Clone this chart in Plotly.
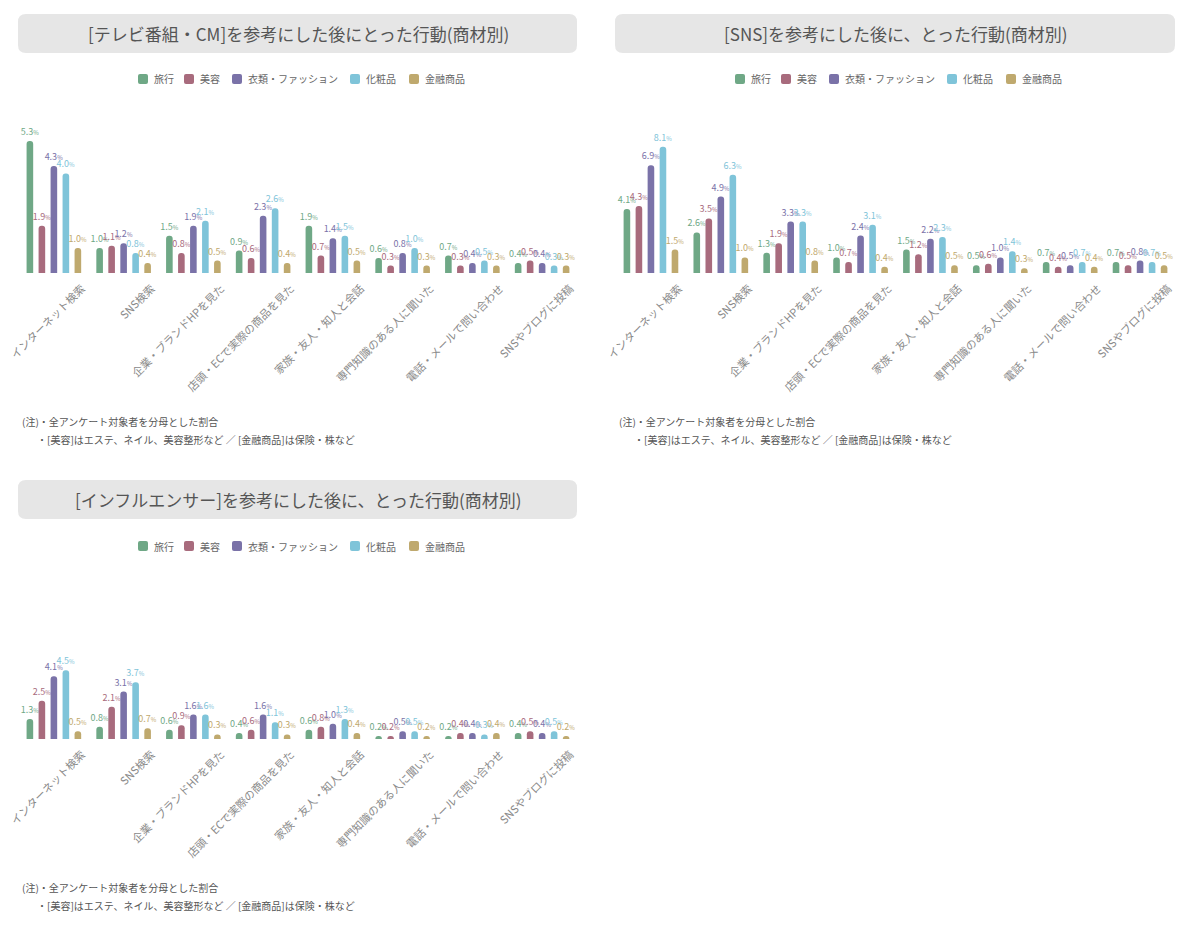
import plotly.graph_objects as go

# page body has an 8px margin, so the figure is a bit smaller and shifted
OFF = 8
W, H = 1200 - 2 * OFF, 945 - 2 * OFF

categories = [
    "インターネット検索", "SNS検索", "企業・ブランドHPを見た", "店頭・ECで実際の商品を見た",
    "家族・友人・知人と会話", "専門知識のある人に聞いた", "電話・メールで問い合わせ", "SNSやブログに投稿",
]
series_names = ["旅行", "美容", "衣類・ファッション", "化粧品", "金融商品"]
colors = ["#6fa886", "#a86b7d", "#7a72a8", "#7fc4d9", "#bfa96e"]

# [テレビ番組・CM]
tv_travel = [5.3, 1.0, 1.5, 0.9, 1.9, 0.6, 0.7, 0.4]
tv_beauty = [1.9, 1.1, 0.8, 0.6, 0.7, 0.3, 0.3, 0.5]
tv_fashion = [4.3, 1.2, 1.9, 2.3, 1.4, 0.8, 0.4, 0.4]
tv_cosme = [4.0, 0.8, 2.1, 2.6, 1.5, 1.0, 0.5, 0.3]
tv_finance = [1.0, 0.4, 0.5, 0.4, 0.5, 0.3, 0.3, 0.3]

# [SNS]
sns_travel = [4.1, 2.6, 1.3, 1.0, 1.5, 0.5, 0.7, 0.7]
sns_beauty = [4.3, 3.5, 1.9, 0.7, 1.2, 0.6, 0.4, 0.5]
sns_fashion = [6.9, 4.9, 3.3, 2.4, 2.2, 1.0, 0.5, 0.8]
sns_cosme = [8.1, 6.3, 3.3, 3.1, 2.3, 1.4, 0.7, 0.7]
sns_finance = [1.5, 1.0, 0.8, 0.4, 0.5, 0.3, 0.4, 0.5]

# [インフルエンサー]
inf_travel = [1.3, 0.8, 0.6, 0.4, 0.6, 0.2, 0.2, 0.4]
inf_beauty = [2.5, 2.1, 0.9, 0.6, 0.8, 0.2, 0.4, 0.5]
inf_fashion = [4.1, 3.1, 1.6, 1.6, 1.0, 0.5, 0.4, 0.4]
inf_cosme = [4.5, 3.7, 1.6, 1.1, 1.3, 0.5, 0.3, 0.5]
inf_finance = [0.5, 0.7, 0.3, 0.3, 0.4, 0.2, 0.4, 0.2]

titles = [
    "[テレビ番組・CM]を参考にした後にとった行動(商材別)",
    "[SNS]を参考にした後に、とった行動(商材別)",
    "[インフルエンサー]を参考にした後に、とった行動(商材別)",
]
note1 = "(注)・全アンケート対象者を分母とした割合"
note2 = "・[美容]はエステ、ネイル、美容整形など ／ [金融商品]は保険・株など"

FONT = "Noto Sans CJK JP"

# legend swatch offsets (px) from the panel's left edge
legend_offsets = [119, 165, 213, 331, 390]


def px(x):
    return (x - OFF) / W


def py(y):
    return 1 - (y - OFF) / H


def rounded_box(x0, y0, x1, y1, r=8):
    # rounded rectangle in paper coords, built from pixel values
    return (
        f"M {px(x0 + r)} {py(y0)} L {px(x1 - r)} {py(y0)} "
        f"Q {px(x1)} {py(y0)} {px(x1)} {py(y0 + r)} "
        f"L {px(x1)} {py(y1 - r)} Q {px(x1)} {py(y1)} {px(x1 - r)} {py(y1)} "
        f"L {px(x0 + r)} {py(y1)} Q {px(x0)} {py(y1)} {px(x0)} {py(y1 - r)} "
        f"L {px(x0)} {py(y0 + r)} Q {px(x0)} {py(y0)} {px(x0 + r)} {py(y0)} Z"
    )


panels = [
    dict(data=[tv_travel, tv_beauty, tv_fashion, tv_cosme, tv_finance],
         x0=19, x1=577, top=110, bottom=273, ymax=6.55, ty0=14, ty1=53, ly=79, ny=421),
    dict(data=[sns_travel, sns_beauty, sns_fashion, sns_cosme, sns_finance],
         x0=616, x1=1175, top=110, bottom=273, ymax=10.45, ty0=14, ty1=53, ly=79, ny=421),
    dict(data=[inf_travel, inf_beauty, inf_fashion, inf_cosme, inf_finance],
         x0=19, x1=577, top=576, bottom=739, ymax=10.65, ty0=480, ty1=519, ly=546, ny=887),
]

fig = go.Figure()
shapes = []
annotations = []
layout = {}

for p, panel in enumerate(panels):
    sfx = "" if p == 0 else str(p + 1)
    for s, vals in enumerate(panel["data"]):
        fig.add_trace(go.Bar(
            x=categories, y=vals, name=series_names[s],
            marker=dict(color=colors[s], cornerradius=4, line_width=0),
            texttemplate="%{y:.1f}<span style='font-size:6px'>%</span>",
            textposition="outside", cliponaxis=False, constraintext="none",
            textfont=dict(color=colors[s], size=9, family=FONT),
            xaxis="x" + sfx, yaxis="y" + sfx,
            showlegend=False, hoverinfo="skip",
        ))
        # legend swatch + label
        lx = panel["x0"] + legend_offsets[s]
        ly = panel["ly"]
        shapes.append(dict(
            type="path", xref="paper", yref="paper",
            path=rounded_box(lx, ly - 5, lx + 10, ly + 5, r=2),
            fillcolor=colors[s], line_width=0,
        ))
        annotations.append(dict(
            text=series_names[s], xref="paper", yref="paper",
            x=px(lx + 14), y=py(ly), xanchor="left", yanchor="middle",
            showarrow=False, font=dict(size=10, color="#666666", family=FONT),
        ))
    layout["xaxis" + sfx] = dict(
        domain=[px(panel["x0"]), px(panel["x1"])], anchor="y" + sfx,
        tickangle=-45, tickfont=dict(size=11, color="#8a8a8a", family=FONT),
        ticklabelshift=28, ticklabelstandoff=6,
        showgrid=False, showline=False, zeroline=False, ticks="", fixedrange=True,
        automargin=False,
    )
    layout["yaxis" + sfx] = dict(
        domain=[py(panel["bottom"]), py(panel["top"])], anchor="x" + sfx,
        range=[0, panel["ymax"]], visible=False, fixedrange=True, automargin=False,
    )
    shapes.append(dict(
        type="path", xref="paper", yref="paper", layer="below",
        path=rounded_box(panel["x0"] - 1, panel["ty0"], panel["x1"], panel["ty1"]),
        fillcolor="#e6e6e6", line_width=0,
    ))
    annotations.append(dict(
        text=titles[p], xref="paper", yref="paper",
        x=px((panel["x0"] + panel["x1"]) / 2), y=py((panel["ty0"] + panel["ty1"]) / 2),
        xanchor="center", yanchor="middle", showarrow=False,
        font=dict(size=17, color="#555555", family=FONT),
    ))
    annotations.append(dict(
        text=note1, xref="paper", yref="paper",
        x=px(panel["x0"] + 1), y=py(panel["ny"]), xanchor="left", yanchor="middle",
        showarrow=False, font=dict(size=10, color="#555555", family=FONT),
    ))
    annotations.append(dict(
        text=note2, xref="paper", yref="paper",
        x=px(panel["x0"] + 16), y=py(panel["ny"] + 18), xanchor="left", yanchor="middle",
        showarrow=False, font=dict(size=10, color="#555555", family=FONT),
    ))

fig.update_layout(
    width=W, height=H,
    margin=dict(l=0, r=0, t=0, b=0, autoexpand=False),
    paper_bgcolor="white", plot_bgcolor="white",
    barmode="group", bargap=0.14, bargroupgap=0.45,
    shapes=shapes, annotations=annotations,
    font=dict(family=FONT),
    **layout,
)

fig.write_html("out.html")
